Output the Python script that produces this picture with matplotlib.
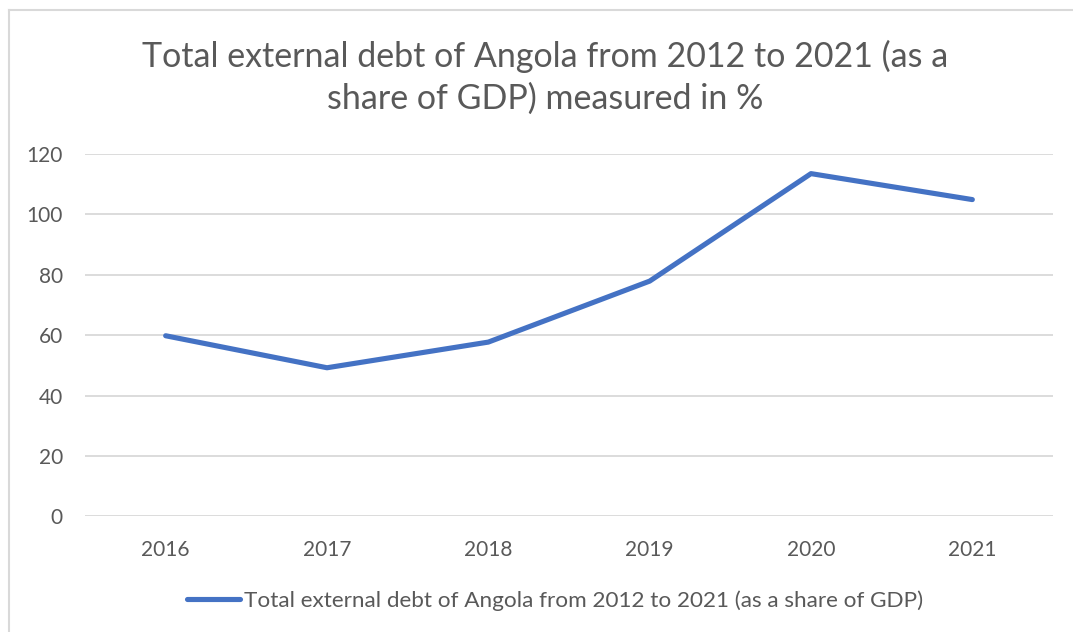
import matplotlib
matplotlib.use("Agg")
import matplotlib.pyplot as plt
from matplotlib.lines import Line2D

# data
years = ["2016", "2017", "2018", "2019", "2020", "2021"]
debt_share = [59.8, 49.2, 57.7, 77.9, 113.5, 104.9]
y_ticks = [0, 20, 40, 60, 80, 100, 120]

title = "Total external debt of Angola from 2012 to 2021 (as a\nshare of GDP) measured in %"
series_label = "Total external debt of Angola from 2012 to 2021 (as a share of GDP)"

text_color = "#595959"
line_color = "#4472C4"
grid_color = "#D9D9D9"

plt.rcParams["font.family"] = ["Lato", "DejaVu Sans"]

W, H = 1073, 632
fig = plt.figure(figsize=(W / 100, H / 100), dpi=100)
fig.patch.set_facecolor("white")

# axes placed in pixel terms of the reference
ax = fig.add_axes([85 / W, (H - 516.3) / H, (1053 - 85) / W, (516.3 - 154) / H])

x = list(range(len(years)))
ax.plot(x, debt_share, color=line_color, lw=3.7, solid_capstyle="round",
        solid_joinstyle="round", zorder=3)

ax.set_xlim(-0.5, len(years) - 0.5)
ax.set_ylim(0, 120)
ax.set_yticks(y_ticks)
ax.set_xticks(x)
ax.set_xticklabels(years)
ax.yaxis.grid(True, color=grid_color, lw=1.3)
ax.set_axisbelow(True)
for s in ax.spines.values():
    s.set_visible(False)
ax.tick_params(axis="both", length=0, labelsize=15, labelcolor=text_color)
ax.tick_params(axis="y", pad=16)
ax.tick_params(axis="x", pad=17)

fig.text(0.5084, 1 - 77.5 / H, title, ha="center", va="center", fontsize=24.5,
         color=text_color, linespacing=1.36)

# legend
handle = Line2D([], [], color=line_color, lw=3.7, solid_capstyle="round")
leg = fig.legend([handle], [series_label], loc="center", bbox_to_anchor=(0.5177, 1 - 601 / H),
                 frameon=False, fontsize=16.2, labelcolor=text_color,
                 handlelength=2.35, handletextpad=0.18)

# chart area border (top and left visible in the reference)
fig.add_artist(Line2D([8.5 / W, 8.5 / W], [0, 1 - 9.5 / H], color=grid_color, lw=1.5))
fig.add_artist(Line2D([8.5 / W, 1], [1 - 9.5 / H, 1 - 9.5 / H], color=grid_color, lw=1.5))

fig.savefig("out.png", dpi=100, facecolor="white")
